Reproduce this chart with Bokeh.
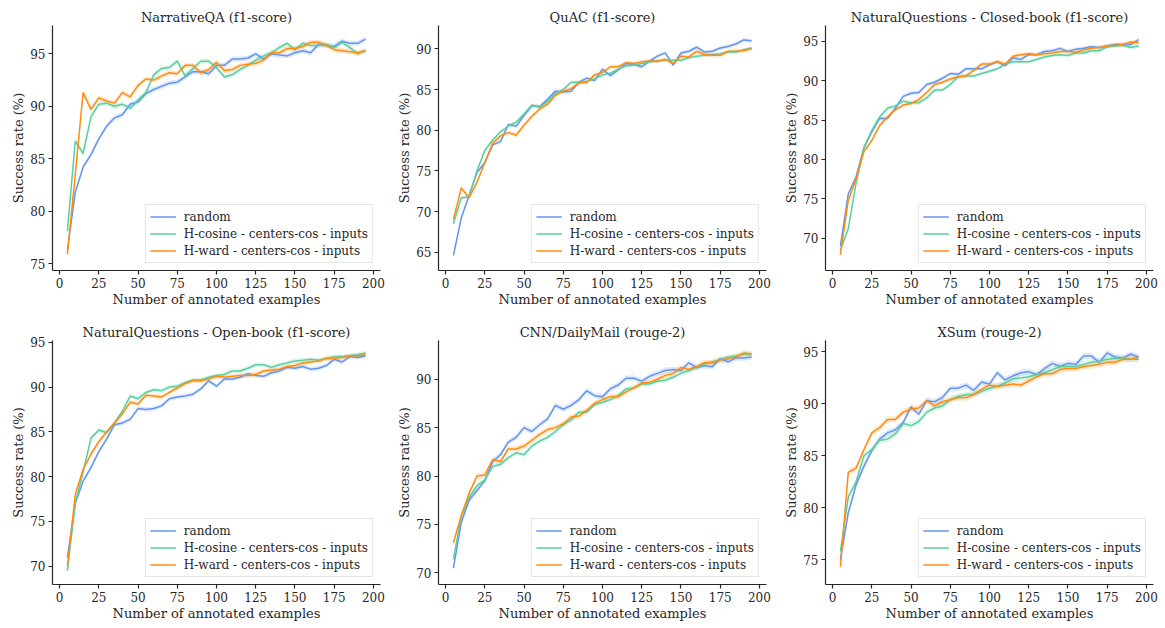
from bokeh.plotting import figure
from bokeh.layouts import column, row
from bokeh.models import FixedTicker, Legend, LegendItem
from bokeh.embed import file_html
from bokeh.resources import INLINE

# ---------------- data ----------------
N_EXAMPLES = [5, 10, 15, 20, 25, 30, 35, 40, 45, 50, 55, 60, 65, 70, 75, 80, 85, 90, 95, 100,
              105, 110, 115, 120, 125, 130, 135, 140, 145, 150, 155, 160, 165, 170, 175, 180, 185, 190, 195]

SERIES_NAMES = ["random", "H-cosine - centers-cos - inputs", "H-ward - centers-cos - inputs"]

# NarrativeQA (f1-score)
nqa_random = [76.3, 81.8, 84.2, 85.4, 86.9, 88.1, 88.9, 89.2, 90.2, 90.4, 91.2, 91.6, 91.9, 92.2, 92.3, 92.8, 93.3, 93.3, 93.1, 93.9,
              93.9, 94.5, 94.5, 94.6, 95.0, 94.5, 95.0, 94.9, 94.8, 95.1, 95.3, 95.1, 95.9, 95.8, 95.7, 96.2, 96.0, 96.0, 96.4]
nqa_hcos = [78.1, 86.7, 85.5, 89.0, 90.2, 90.3, 90.0, 90.2, 89.8, 90.6, 91.3, 93.0, 93.6, 93.7, 94.3, 92.9, 93.6, 94.3, 94.3, 93.7,
            92.8, 93.0, 93.5, 93.9, 94.4, 94.8, 95.1, 95.6, 96.0, 95.4, 96.0, 95.8, 95.8, 95.9, 95.6, 96.1, 95.6, 95.0, 95.3]
nqa_hward = [75.9, 83.5, 91.3, 89.7, 90.8, 90.5, 90.3, 91.3, 90.9, 92.0, 92.6, 92.5, 92.9, 93.2, 93.1, 93.9, 93.9, 93.2, 93.5, 94.2,
             93.4, 93.5, 93.9, 94.0, 94.1, 94.4, 95.1, 95.1, 95.5, 95.5, 95.7, 96.1, 96.1, 95.8, 95.4, 95.3, 95.2, 95.1, 95.3]

# QuAC (f1-score)
quac_random = [64.6, 69.2, 72.0, 74.8, 76.0, 78.2, 78.6, 80.7, 80.5, 81.8, 83.0, 82.9, 83.8, 84.8, 84.7, 84.8, 85.9, 86.4, 86.1, 87.5,
               86.7, 87.4, 88.2, 88.1, 87.8, 88.5, 89.1, 89.5, 88.0, 89.5, 89.7, 90.2, 89.6, 89.7, 90.1, 90.3, 90.6, 91.1, 91.0]
quac_hcos = [68.5, 71.7, 71.8, 75.0, 77.5, 78.8, 79.8, 80.5, 81.0, 82.0, 83.1, 82.8, 83.5, 84.5, 85.0, 85.9, 85.9, 86.0, 86.3, 86.8,
             87.0, 87.5, 87.9, 88.0, 88.2, 88.4, 88.5, 88.6, 88.6, 88.6, 88.9, 89.1, 89.2, 89.3, 89.4, 89.6, 89.6, 89.9, 90.1]
quac_hward = [69.0, 72.9, 71.7, 73.6, 76.0, 78.4, 79.3, 79.7, 79.4, 80.6, 81.7, 82.6, 83.2, 84.3, 84.8, 85.1, 85.8, 85.9, 86.8, 87.1,
              87.8, 87.8, 88.3, 88.2, 88.4, 88.5, 88.5, 88.7, 88.2, 89.1, 89.0, 89.7, 89.3, 89.2, 89.2, 89.7, 89.7, 89.8, 90.0]

# NaturalQuestions - Closed-book (f1-score)
nqc_random = [69.0, 75.6, 77.8, 81.5, 83.5, 85.2, 85.2, 86.5, 88.0, 88.4, 88.5, 89.5, 89.8, 90.3, 90.9, 90.8, 91.5, 91.5, 91.5, 92.0,
              92.4, 91.9, 92.9, 92.7, 93.3, 93.3, 93.7, 93.8, 94.1, 93.7, 94.0, 94.1, 94.3, 94.2, 94.4, 94.6, 94.6, 94.6, 95.2]
nqc_hcos = [68.5, 71.2, 77.0, 81.5, 83.7, 85.4, 86.5, 86.8, 87.4, 87.2, 87.2, 87.8, 88.8, 88.8, 89.5, 90.5, 90.6, 90.6, 90.9, 91.2,
            91.5, 92.1, 92.4, 92.4, 92.4, 92.7, 93.0, 93.2, 93.3, 93.2, 93.5, 93.5, 93.8, 93.8, 94.3, 94.4, 94.5, 94.2, 94.4]
nqc_hward = [67.9, 74.8, 77.5, 81.0, 82.4, 84.3, 85.4, 86.3, 86.9, 87.1, 87.6, 88.5, 89.5, 89.8, 90.2, 90.5, 90.6, 91.3, 92.1, 92.1,
             92.4, 92.1, 93.1, 93.3, 93.4, 93.3, 93.4, 93.5, 93.7, 93.7, 93.6, 93.9, 94.1, 94.2, 94.4, 94.5, 94.6, 94.9, 94.8]

# NaturalQuestions - Open-book (f1-score)
nqo_random = [71.0, 77.0, 79.5, 81.0, 82.8, 84.2, 85.8, 86.0, 86.4, 87.6, 87.5, 87.6, 87.9, 88.7, 88.9, 89.0, 89.2, 89.8, 90.7, 90.1,
              90.9, 90.9, 91.1, 91.5, 91.3, 91.2, 91.6, 91.8, 92.2, 92.1, 92.3, 92.0, 92.1, 92.4, 93.1, 92.8, 93.4, 93.3, 93.5]
nqo_hcos = [69.5, 77.0, 80.5, 84.3, 85.2, 84.9, 86.0, 87.3, 89.0, 88.7, 89.4, 89.7, 89.6, 90.0, 90.1, 90.5, 90.8, 90.8, 91.1, 91.3,
            91.4, 91.8, 91.8, 92.1, 92.5, 92.5, 92.2, 92.5, 92.7, 92.9, 93.0, 93.1, 93.0, 93.2, 93.4, 93.4, 93.5, 93.6, 93.8]
nqo_hward = [70.0, 78.0, 80.8, 82.5, 83.9, 85.0, 86.0, 87.0, 88.3, 88.1, 89.1, 89.0, 88.9, 89.4, 89.9, 90.4, 90.7, 90.7, 90.9, 91.2,
             91.1, 91.2, 91.3, 91.3, 91.4, 91.8, 91.9, 92.0, 92.3, 92.4, 92.7, 92.8, 92.9, 93.2, 93.2, 93.3, 93.5, 93.5, 93.6]

# CNN/DailyMail (rouge-2)
cnn_random = [70.5, 75.2, 77.5, 78.5, 79.5, 81.5, 82.2, 83.5, 84.0, 85.0, 84.6, 85.3, 85.9, 87.3, 86.9, 87.3, 87.9, 88.8, 88.3, 88.2,
              89.0, 89.4, 90.1, 90.1, 89.8, 90.3, 90.6, 90.9, 91.0, 90.9, 91.7, 91.2, 91.4, 91.3, 92.1, 91.8, 92.2, 92.2, 92.3]
cnn_hcos = [71.4, 75.8, 77.8, 79.0, 79.6, 81.0, 81.2, 81.9, 82.4, 82.2, 83.1, 83.6, 84.0, 84.6, 85.3, 85.8, 86.6, 86.6, 87.4, 87.6,
            87.9, 88.3, 89.0, 89.1, 89.5, 89.5, 89.8, 89.9, 90.2, 90.6, 90.9, 91.2, 91.6, 91.8, 92.0, 92.3, 92.4, 92.6, 92.6]
cnn_hward = [73.1, 75.9, 78.2, 80.0, 80.1, 81.7, 81.5, 82.8, 82.8, 83.1, 83.7, 84.3, 84.8, 85.0, 85.4, 86.1, 86.2, 86.8, 87.5, 87.9,
             88.2, 88.2, 88.7, 89.1, 89.6, 89.7, 90.0, 90.4, 90.6, 91.2, 91.0, 91.3, 91.7, 91.7, 92.0, 92.1, 92.3, 92.7, 92.6]

# XSum (rouge-2)
xsum_random = [75.0, 79.5, 82.2, 84.0, 85.5, 86.6, 87.2, 87.5, 88.2, 89.7, 89.0, 90.3, 90.2, 90.6, 91.5, 91.5, 91.8, 91.3, 92.1, 91.9,
               93.0, 92.3, 92.7, 93.0, 93.1, 92.8, 93.4, 93.9, 93.6, 93.9, 93.8, 94.6, 94.6, 94.0, 94.9, 94.5, 94.4, 94.8, 94.5]
xsum_hcos = [75.8, 81.0, 82.5, 85.0, 85.6, 86.5, 86.6, 87.1, 88.1, 87.9, 88.3, 89.2, 89.6, 89.8, 90.4, 90.7, 90.9, 90.9, 91.2, 91.5,
             91.7, 92.0, 92.4, 92.5, 92.6, 92.8, 93.0, 93.3, 93.6, 93.6, 93.6, 93.8, 94.0, 94.1, 94.3, 94.4, 94.4, 94.3, 94.3]
xsum_hward = [74.3, 83.4, 83.8, 85.6, 87.2, 87.7, 88.5, 88.5, 89.2, 89.5, 89.6, 90.3, 89.8, 90.2, 90.4, 90.6, 90.6, 90.9, 91.4, 91.8,
              91.7, 91.8, 91.9, 91.8, 92.2, 92.6, 92.9, 92.9, 93.3, 93.4, 93.4, 93.6, 93.7, 93.8, 94.0, 94.0, 94.3, 94.3, 94.5]

# confidence-band half widths (random, H-cosine, H-ward)
nqa_ci = [0.25, 0.25, 0.25]
quac_ci = [0.25, 0.2, 0.25]
nqc_ci = [0.25, 0.25, 0.25]
nqo_ci = [0.25, 0.25, 0.25]
cnn_ci = [0.3, 0.25, 0.3]
xsum_ci = [0.3, 0.3, 0.3]

TITLES = ["NarrativeQA (f1-score)", "QuAC (f1-score)", "NaturalQuestions - Closed-book (f1-score)",
          "NaturalQuestions - Open-book (f1-score)", "CNN/DailyMail (rouge-2)", "XSum (rouge-2)"]
X_TICKS = [0, 25, 50, 75, 100, 125, 150, 175, 200]
Y_TICKS = [[75, 80, 85, 90, 95], [65, 70, 75, 80, 85, 90], [70, 75, 80, 85, 90, 95],
           [70, 75, 80, 85, 90, 95], [70, 75, 80, 85, 90], [75, 80, 85, 90, 95]]

PANELS = [
    (nqa_random, nqa_hcos, nqa_hward, nqa_ci),
    (quac_random, quac_hcos, quac_hward, quac_ci),
    (nqc_random, nqc_hcos, nqc_hward, nqc_ci),
    (nqo_random, nqo_hcos, nqo_hward, nqo_ci),
    (cnn_random, cnn_hcos, cnn_hward, cnn_ci),
    (xsum_random, xsum_hcos, xsum_hward, xsum_ci),
]

# ---------------- styling / layout ----------------
COLORS = ["#6495ED", "#5ACF9E", "#FF8C0F"]
FONT = "DejaVu Serif"
TXT = "#262626"
Y_RANGES = [(74.35, 97.7), (62.75, 92.87), (65.9, 97.0), (67.96, 95.2), (68.8, 94.0), (72.6, 96.1)]
BORDERS_LR = [(52, 8), (50, 10), (49, 12)]
ROW_TB = [(25, 245, 40), (30, 244, 44)]


def make_panel(i):
    r, c = divmod(i, 3)
    bl, br = BORDERS_LR[c]
    bt, fh, bb = ROW_TB[r]
    p = figure(frame_width=328, frame_height=fh,
               x_range=(-4.5, 204.5), y_range=Y_RANGES[i],
               output_backend="svg", toolbar_location=None,
               min_border_left=bl, min_border_right=br,
               min_border_top=bt, min_border_bottom=bb,
               title=TITLES[i])
    p.outline_line_color = None
    p.grid.visible = False
    p.title.align = "center"
    p.title.text_font = FONT
    p.title.text_font_size = "13px"
    p.title.text_font_style = "normal"
    p.title.text_color = TXT
    p.title.standoff = 2
    for ax in (p.xaxis[0], p.yaxis[0]):
        ax.axis_line_color = TXT
        ax.axis_line_width = 1.2
        ax.major_tick_line_color = TXT
        ax.major_tick_line_width = 1.2
        ax.major_tick_out = 4
        ax.major_tick_in = 0
        ax.minor_tick_line_color = None
        ax.major_label_text_font = FONT
        ax.major_label_text_font_size = "12px"
        ax.major_label_text_color = TXT
        ax.axis_label_text_font = FONT
        ax.axis_label_text_font_size = "13px"
        ax.axis_label_text_font_style = "normal"
        ax.axis_label_text_color = TXT
        ax.axis_label_standoff = 1
        ax.major_label_standoff = 3
    p.xaxis.ticker = FixedTicker(ticks=X_TICKS)
    p.yaxis.ticker = FixedTicker(ticks=Y_TICKS[i])
    p.xaxis.axis_label = "Number of annotated examples"
    p.yaxis.axis_label = "Success rate (%)"

    ys = PANELS[i][:3]
    ci = PANELS[i][3]
    items = []
    for k, (y, col) in enumerate(zip(ys, COLORS)):
        lo = [v - ci[k] for v in y]
        hi = [v + ci[k] for v in y]
        p.varea(x=N_EXAMPLES, y1=lo, y2=hi, fill_color=col, fill_alpha=0.2)
    for k, (y, col) in enumerate(zip(ys, COLORS)):
        ln = p.line(N_EXAMPLES, y, line_color=col, line_width=1.5)
        items.append(LegendItem(label=SERIES_NAMES[k], renderers=[ln]))
    leg = Legend(items=items, location="bottom_right")
    leg.label_text_font = FONT
    leg.label_text_font_size = "12px"
    leg.label_text_color = TXT
    leg.border_line_color = "#cccccc"
    leg.border_line_width = 1
    leg.background_fill_alpha = 0.85
    leg.glyph_width = 26
    leg.glyph_height = 15
    leg.label_height = 15
    leg.label_standoff = 8
    leg.spacing = 2
    leg.padding = 4
    leg.margin = 7
    p.add_layout(leg, "center")
    return p


panels = [make_panel(i) for i in range(6)]
layout = column(row(*panels[:3]), row(*panels[3:]))

open("out.html", "w").write(file_html(layout, INLINE))
